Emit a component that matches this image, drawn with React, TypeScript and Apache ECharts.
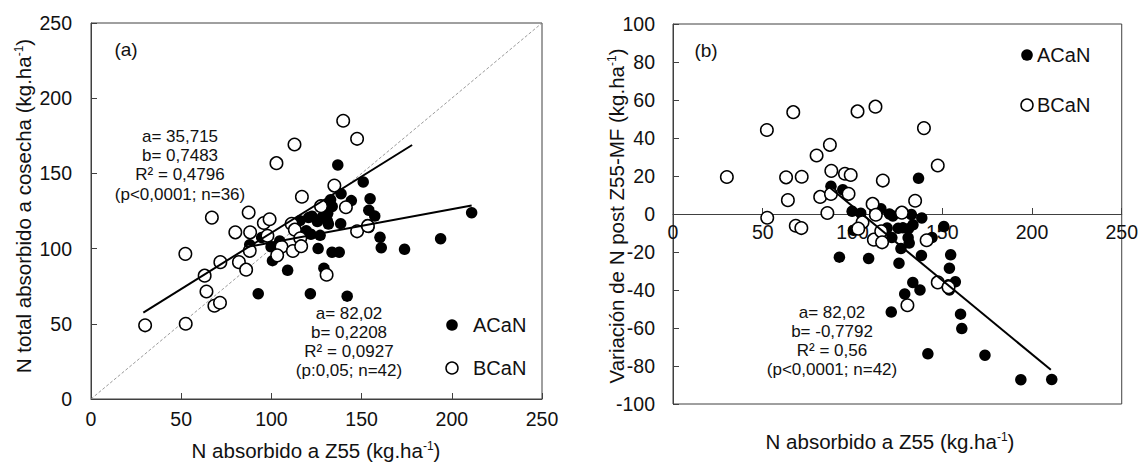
import React, { useEffect, useRef } from "react";
import * as echarts from "echarts";

// ACaN (filled) — N absorbed at Z55, N total at harvest, variation post Z55-MF
const acanZ55 = [88, 94.6, 92.7, 99.8, 100.6, 104.6, 109, 115.8, 119.3, 120.6, 121.6, 121.9, 125.9, 127, 128.1, 129.1, 131.6, 132.8, 133.7, 133.6, 137.6, 138.4, 138.6, 136.8, 142, 144.3, 150.9, 154.7, 154, 154, 157.3, 160.2, 160.9, 173.8, 193.8, 211, 122.5, 153.3, 131, 131.2, 125.5, 112.5];
const acanCosecha = [102.6, 107.4, 70, 101.2, 92, 105, 85.6, 118.6, 111.9, 120.6, 70, 109.5, 100, 108.8, 120.8, 87, 116.3, 132.5, 128, 97.6, 97.6, 116.6, 136.5, 155.6, 68.4, 131.9, 144.3, 133.2, 125.5, 114, 121.6, 107.5, 100.6, 99.5, 106.6, 123.9, 121.5, 116, 118.5, 123.5, 118, 114];
const acanVariacion = [14.6, 12.8, -22.7, 1.4, -8.6, 0.4, -23.4, 2.8, -7.4, 0, -51.6, -12.4, -25.9, -18.2, -7.3, -42.1, -15.3, -0.3, -5.7, -36, -40, -21.8, -2.1, 18.8, -73.6, -12.4, -6.6, -21.5, -28.5, -40, -35.7, -52.7, -60.3, -74.3, -87.2, -87.1, -1, -37.3, -12.5, -7.7, -7.5, 1.5];

// BCaN (open)
const bcanZ55 = [30, 52.5, 52.3, 63, 64, 67, 68.4, 71.5, 71.7, 80, 82, 86, 87.4, 88.2, 88, 95.8, 99, 97.8, 102.8, 112.8, 116.9, 111.2, 113, 105.6, 103.2, 111.9, 116, 116.5, 127.5, 134.9, 139.8, 147.5, 141.3, 147.5, 130.6, 153.5];
const bcanCosecha = [49, 50, 96.5, 82, 71.5, 120.6, 62, 64, 91, 110.8, 91, 86, 124, 110.8, 98.5, 117, 119.5, 108.5, 156.8, 169.2, 134.5, 116.5, 112.6, 101.2, 95.5, 98.4, 106.9, 101.6, 128.2, 141.9, 185, 173, 127.5, 111.5, 82.6, 115];
const bcanVariacion = [19.5, -2, 44.2, 19.3, 7.3, 53.6, -6.2, -7.4, 19.6, 30.8, 9, 0.5, 36.4, 22.7, 10.5, 21.2, 20.5, 10.6, 54, 56.5, 17.6, 5.3, -0.4, -4.4, -7.7, -13.5, -9.1, -14.9, 0.7, 7, 45.2, 25.5, -13.8, -36, -48, -38.5];

// fitted lines (end points)
const fitBcanCosecha = [[29, 57.4], [178, 168.9]];
const fitAcanCosecha = [[86, 101], [211, 128.6]];
const fitAcanVariacion = [[87.5, 13.8], [210.5, -82]];
const lineOneToOne = [[0, 0], [250, 250]];

// tick settings
const xTicks = { min: 0, max: 250, interval: 50 };
const yTicksA = { min: 0, max: 250, interval: 50 };
const yTicksB = { min: -100, max: 100, interval: 20 };

const annotA1 = ["a= 35,715", "b= 0,7483", "R² = 0,4796", "(p<0,0001; n=36)"];
const annotA2 = ["a= 82,02", "b= 0,2208", "R² = 0,0927", "(p:0,05; n=42)"];
const annotB = ["a= 82,02", "b= -0,7792", "R² = 0,56", "(p<0,0001; n=42)"];

const zip = (xs: number[], ys: number[]) => xs.map((x, i) => [x, ys[i]]);

export default function App() {
  const ref = useRef<HTMLDivElement>(null);
  useEffect(() => {
    const chart = echarts.init(ref.current!, null, { renderer: "svg" });
    const font = "'Liberation Sans', Arial, sans-serif";
    const axisColor = "#404040";
    const txt = "#111";
    const baseAxis = {
      axisLine: { show: true, onZero: false, lineStyle: { color: axisColor, width: 1 } },
      axisTick: { show: true, inside: true, length: 6, lineStyle: { color: axisColor } },
      splitLine: { show: false },
    };
    const filled = {
      type: "scatter",
      symbol: "circle",
      symbolSize: 11.5,
      itemStyle: { color: "#000", opacity: 1 },
      z: 2,
    };
    const open = {
      type: "scatter",
      symbol: "circle",
      symbolSize: 12.5,
      itemStyle: { color: "#fff", borderColor: "#000", borderWidth: 1.5, opacity: 1 },
      z: 3,
    };
    const fitLine = {
      type: "line",
      symbol: "none",
      lineStyle: { color: "#000", width: 2 },
      z: 4,
    };
    const rich = { s: { fontSize: 12, verticalAlign: "top", lineHeight: 20, fontFamily: font, fill: txt } };
    const annot = (lines: string[], cx: number, ys: number[]) =>
      lines.map((t, i) => ({
        type: "text",
        x: cx,
        y: ys[i],
        style: { text: t, fontSize: 17, fontFamily: font, fill: txt, align: "center", verticalAlign: "middle" },
      }));
    const title = (t: string, x: number, y: number, rot: number) => ({
      type: "text",
      x,
      y,
      rotation: rot,
      style: { text: t, rich, fontSize: 20.5, fontFamily: font, fill: txt, align: "center", verticalAlign: "middle" },
    });
    const legendItem = (x: number, y: number, isOpen: boolean, label: string, gap: number) => [
      {
        type: "circle",
        shape: { cx: x, cy: y, r: isOpen ? 6 : 5.8 },
        style: isOpen ? { fill: "#fff", stroke: "#000", lineWidth: 1.5 } : { fill: "#000" },
      },
      {
        type: "text",
        x: x + gap,
        y,
        style: { text: label, fontSize: 20, fontFamily: font, fill: txt, align: "left", verticalAlign: "middle" },
      },
    ];

    chart.setOption({
      animation: false,
      textStyle: { fontFamily: font },
      grid: [
        { left: 91, top: 23, width: 451, height: 376, show: true, borderColor: axisColor, borderWidth: 1, backgroundColor: "transparent" },
        { left: 673, top: 24, width: 449, height: 380, show: true, borderColor: axisColor, borderWidth: 1, backgroundColor: "transparent" },
      ],
      xAxis: [
        {
          gridIndex: 0,
          type: "value",
          ...xTicks,
          ...baseAxis,
          axisLabel: { color: txt, fontSize: 19.5, fontFamily: font, margin: 10 },
        },
        {
          gridIndex: 1,
          type: "value",
          position: "bottom",
          offset: -190,
          ...xTicks,
          ...baseAxis,
          axisLabel: { color: txt, fontSize: 19.5, fontFamily: font, margin: 8 },
        },
      ],
      yAxis: [
        {
          gridIndex: 0,
          type: "value",
          ...yTicksA,
          ...baseAxis,
          axisLabel: { color: txt, fontSize: 19.5, fontFamily: font, margin: 19 },
        },
        {
          gridIndex: 1,
          type: "value",
          ...yTicksB,
          ...baseAxis,
          axisLabel: { color: txt, fontSize: 19.5, fontFamily: font, margin: 18 },
        },
      ],
      series: [
        {
          type: "line",
          xAxisIndex: 0,
          yAxisIndex: 0,
          data: lineOneToOne,
          symbol: "none",
          lineStyle: { color: "#808080", width: 0.8, type: [3, 2] },
          z: 1,
        },
        { ...filled, name: "ACaN", xAxisIndex: 0, yAxisIndex: 0, data: zip(acanZ55, acanCosecha) },
        { ...open, name: "BCaN", xAxisIndex: 0, yAxisIndex: 0, data: zip(bcanZ55, bcanCosecha) },
        { ...fitLine, xAxisIndex: 0, yAxisIndex: 0, data: fitBcanCosecha },
        { ...fitLine, xAxisIndex: 0, yAxisIndex: 0, data: fitAcanCosecha },
        { ...filled, name: "ACaN ", xAxisIndex: 1, yAxisIndex: 1, data: zip(acanZ55, acanVariacion) },
        { ...open, name: "BCaN ", xAxisIndex: 1, yAxisIndex: 1, data: zip(bcanZ55, bcanVariacion) },
        { ...fitLine, xAxisIndex: 1, yAxisIndex: 1, data: fitAcanVariacion },
      ],
      graphic: [
        title("N total absorbido a cosecha (kg.ha{s|-1})", 23, 206, Math.PI / 2),
        title("N absorbido a Z55 (kg.ha{s|-1})", 316, 450, 0),
        title("Variación de N post Z55-MF (kg.ha{s|-1})", 616, 216, Math.PI / 2),
        title("N absorbido a Z55 (kg.ha{s|-1})", 890, 441, 0),
        { type: "text", x: 126, y: 49, style: { text: "(a)", fontSize: 19, fontFamily: font, fill: txt, align: "center", verticalAlign: "middle" } },
        { type: "text", x: 706, y: 50, style: { text: "(b)", fontSize: 19, fontFamily: font, fill: txt, align: "center", verticalAlign: "middle" } },
        ...annot(annotA1, 180, [136, 155, 174, 194]),
        ...annot(annotA2, 349, [313, 332, 351, 370]),
        ...annot(annotB, 832, [312, 331, 350, 369]),
        ...legendItem(452, 325, false, "ACaN", 21),
        ...legendItem(452, 368, true, "BCaN", 21),
        ...legendItem(1027, 55, false, "ACaN", 10),
        ...legendItem(1027, 105, true, "BCaN", 10),
      ],
    });
    return () => chart.dispose();
  }, []);
  return (
    <div
      ref={ref}
      style={{ position: "fixed", left: 0, top: 0, width: 1141, height: 462, background: "#fff" }}
    />
  );
}
